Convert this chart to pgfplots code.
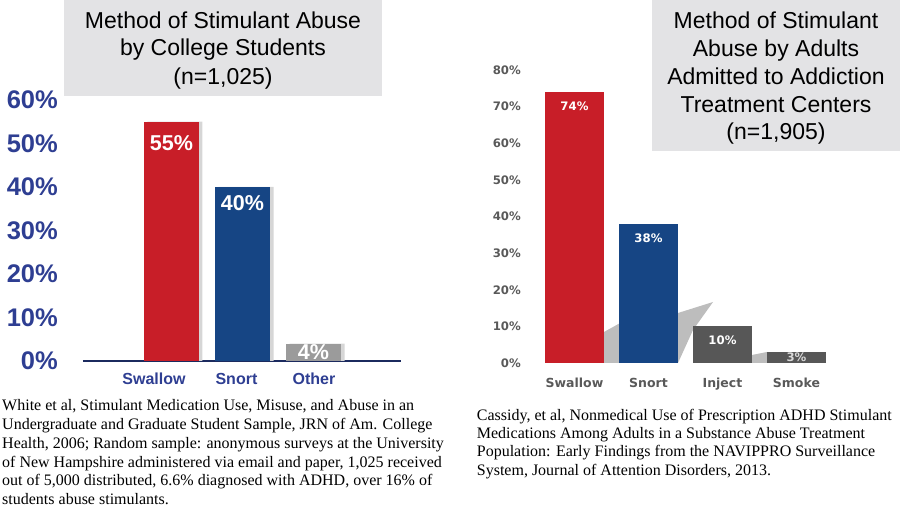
\documentclass[border=0pt]{standalone}
\usepackage{fontspec}
\setmainfont{Liberation Serif}
\newfontfamily\arialf{Liberation Sans}
\newfontfamily\verd{DejaVu Sans}
\usepackage{pgfplots}
\pgfplotsset{compat=1.18}
\definecolor{lblue}{HTML}{2E3E92}
\definecolor{lred}{HTML}{C81E28}
\definecolor{bblue}{HTML}{164584}
\definecolor{lgray}{HTML}{9B9B9B}
\definecolor{dgray}{HTML}{575757}
\definecolor{tgray}{HTML}{595959}
\definecolor{navy}{HTML}{1B2A5E}
\definecolor{boxgray}{HTML}{E3E3E5}
\begin{document}
\begin{tikzpicture}[x=1pt,y=1pt]
\path[use as bounding box] (0,0) rectangle (900,519);
% title boxes
\fill[boxgray] (64,423) rectangle (382,519);
\fill[boxgray] (652,368) rectangle (900,519);
\begin{scope}[every node/.style={anchor=base,inner sep=0pt,font=\arialf\fontsize{23}{27}\selectfont}]
\node at (223,490) {Method of Stimulant Abuse};
\node at (223,463) {by College Students};
\node at (223,434) {(n=1,025)};
\node at (776,490) {Method of Stimulant};
\node at (776,462.25) {Abuse by Adults};
\node at (776,434.5) {Admitted to Addiction};
\node at (776,406.75) {Treatment Centers};
\node at (776,379) {(n=1,905)};
\end{scope}
% decorative shadows (right chart)
\fill[black!26] (604,156) -- (604,187) -- (640,207) -- (640,156) -- cycle;
\fill[black!26] (678,156) -- (678,206) -- (713,217) -- (693,189) -- cycle;
\fill[black!26] (752,156) -- (752,164) -- (767,167) -- (767,156) -- cycle;
% left chart
\begin{axis}[
  at={(83pt,158pt)}, anchor=south west,
  scale only axis, width=318pt, height=261pt,
  xmin=-1.246, xmax=3.232, ymin=0, ymax=60,
  enlargelimits=false,
  ybar, bar width=55pt, bar shift=0pt,
  axis x line=bottom, axis y line=left,
  axis line style={-},
  y axis line style={draw=none},
  x axis line style={draw=navy, line width=1.5pt},
  major tick length=0pt,
  ytick={0,10,20,30,40,50,60},
  yticklabels={0\%,10\%,20\%,30\%,40\%,50\%,60\%},
  yticklabel style={anchor=east, inner sep=0pt, xshift=-25pt, text=lblue, font=\arialf\bfseries\fontsize{25.5}{26}\selectfont},
  xtick={-0.246,0.915,2.007},
  xticklabels={Swallow,Snort,Other},
  xticklabel style={anchor=base, inner sep=0pt, yshift=-24pt, text=lblue, font=\arialf\bfseries\fontsize{16}{18}\selectfont},
  point meta=explicit symbolic,
  clip=false,
]
\addplot[fill=black!16, draw=none, bar shift=3.5pt] coordinates {(0,55) (1,40) (2,4)};
\addplot[fill=lred, draw=none, nodes near coords, every node near coord/.append style={anchor=center, yshift=-21pt, text=white, font=\arialf\bfseries\fontsize{21.5}{22}\selectfont}] coordinates {(0,55) [55\%]};
\addplot[fill=bblue, draw=none, nodes near coords, every node near coord/.append style={anchor=center, yshift=-16pt, text=white, font=\arialf\bfseries\fontsize{21.5}{22}\selectfont}] coordinates {(1,40) [40\%]};
\addplot[fill=lgray, draw=none, nodes near coords, every node near coord/.append style={anchor=center, yshift=-9pt, text=white, font=\arialf\bfseries\fontsize{21.5}{22}\selectfont}] coordinates {(2,4) [4\%]};
\end{axis}
% right chart
\begin{axis}[
  at={(530pt,156pt)}, anchor=south west,
  scale only axis, width=310pt, height=293pt,
  xmin=-0.601, xmax=3.588, ymin=0, ymax=80,
  enlargelimits=false,
  ybar, bar width=59pt, bar shift=0pt,
  axis x line=bottom, axis y line=left,
  axis line style={-, draw=none},
  major tick length=0pt,
  ytick={0,10,20,30,40,50,60,70,80},
  yticklabels={0\%,10\%,20\%,30\%,40\%,50\%,60\%,70\%,80\%},
  yticklabel style={anchor=east, inner sep=0pt, xshift=-9pt, text=tgray, font=\verd\bfseries\fontsize{11.7}{13}\selectfont},
  xtick={0,1,2,3},
  xticklabels={Swallow,Snort,Inject,Smoke},
  xticklabel style={anchor=base, inner sep=0pt, yshift=-24.5pt, text=tgray, font=\verd\bfseries\fontsize{12.5}{14}\selectfont},
  point meta=explicit symbolic,
  clip=false,
]
\addplot[fill=lred, draw=none, nodes near coords, every node near coord/.append style={anchor=center, yshift=-14pt, text=white, font=\verd\bfseries\fontsize{11.7}{13}\selectfont}] coordinates {(0,74) [74\%]};
\addplot[fill=bblue, draw=none, nodes near coords, every node near coord/.append style={anchor=center, yshift=-14pt, text=white, font=\verd\bfseries\fontsize{11.7}{13}\selectfont}] coordinates {(1,38) [38\%]};
\addplot[fill=dgray, draw=none, nodes near coords, every node near coord/.append style={anchor=center, yshift=-14pt, text=white, font=\verd\bfseries\fontsize{11.7}{13}\selectfont}] coordinates {(2,10) [10\%]};
\addplot[fill=dgray, draw=none, nodes near coords, every node near coord/.append style={anchor=center, yshift=-5pt, text=black!15, font=\verd\bfseries\fontsize{11.7}{13}\selectfont}] coordinates {(3,3) [3\%]};
\end{axis}
% footnotes
\begin{scope}[every node/.style={anchor=base west,inner sep=0pt,font=\fontsize{16}{18}\selectfont}]
\node at (2,108.3) {White et al, Stimulant Medication Use, Misuse, and Abuse in an};
\node at (2,89.5) {Undergraduate and Graduate Student Sample, JRN of Am. College};
\node at (2,70.7) {Health, 2006; Random sample: anonymous surveys at the University};
\node at (2,51.9) {of New Hampshire administered via email and paper, 1,025 received};
\node at (2,33.1) {out of 5,000 distributed, 6.6\% diagnosed with ADHD, over 16\% of};
\node at (2,14.3) {students abuse stimulants.};
\node at (476.7,98.6) {Cassidy, et al, Nonmedical Use of Prescription ADHD Stimulant};
\node at (476.7,80.3) {Medications Among Adults in a Substance Abuse Treatment};
\node at (476.7,62.0) {Population: Early Findings from the NAVIPPRO Surveillance};
\node at (476.7,43.7) {System, Journal of Attention Disorders, 2013.};
\end{scope}
\end{tikzpicture}
\end{document}
